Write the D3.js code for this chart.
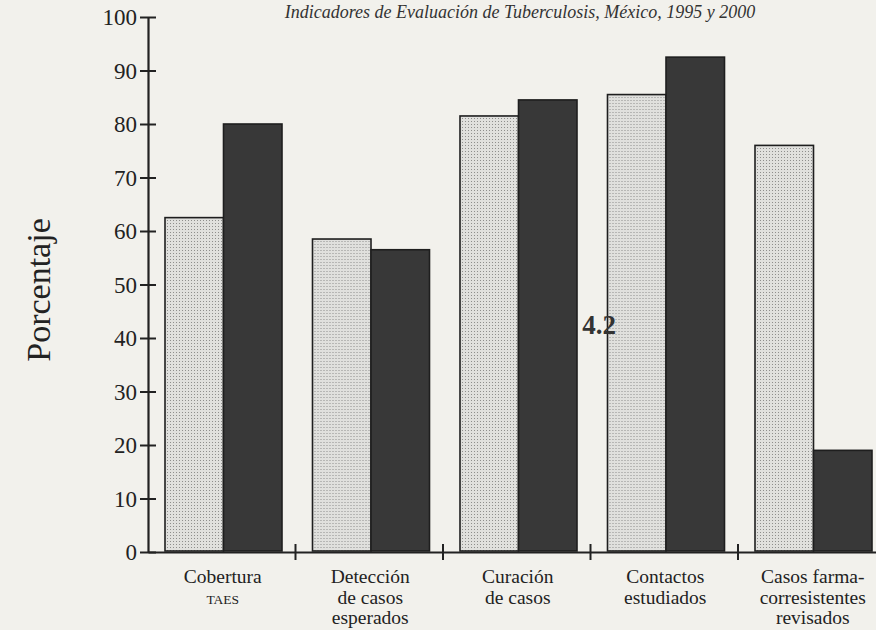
<!DOCTYPE html>
<html>
<head>
<meta charset="utf-8">
<script src="https://cdn.jsdelivr.net/npm/d3@7"></script>
<style>
  html, body { margin: 0; padding: 0; background: #f2f1ec; }
  svg { display: block; }
</style>
</head>
<body>
<script>
// ---- Data ----
const categories = [
  ["Cobertura", "TAES"],
  ["Detección", "de casos", "esperados"],
  ["Curación", "de casos"],
  ["Contactos", "estudiados"],
  ["Casos farma-", "corresistentes", "revisados"]
];
const categoryKeys = ["cobertura", "deteccion", "curacion", "contactos", "farmaco"];
const series = ["1995", "2000"];
const values1995 = [62.5, 58.5, 81.5, 85.5, 76];
const values2000 = [80, 56.5, 84.5, 92.5, 19];
const yTicks = [0, 10, 20, 30, 40, 50, 60, 70, 80, 90, 100];
const title = "Indicadores de Evaluación de Tuberculosis, México, 1995 y 2000";
const yLabel = "Porcentaje";
const pageMark = "4.2";

// ---- Layout ----
const W = 876, H = 630;
const mLeft = 148, mBottom = 552, mTop = 17;
const groupStep = 147.5;

const svg = d3.select("body").append("svg").attr("width", W).attr("height", H);
svg.append("rect").attr("width", W).attr("height", H).attr("fill", "#f2f1ec");

const defs = svg.append("defs");
const pat = defs.append("pattern").attr("id", "stipple")
  .attr("patternUnits", "userSpaceOnUse").attr("width", 3).attr("height", 3);
pat.append("rect").attr("width", 3).attr("height", 3).attr("fill", "#e0e0dd");
pat.append("rect").attr("x", 1).attr("y", 1).attr("width", 1).attr("height", 1).attr("fill", "#8e8e8c");

const y = d3.scaleLinear().domain([0, 100]).range([mBottom, mTop]);
const x0 = d3.scaleBand().domain(categoryKeys).range([mLeft, mLeft + groupStep * categoryKeys.length]).padding(0);
const x1 = d3.scaleBand().domain(series).range([17, 134]).padding(0);

const data = categoryKeys.map((k, i) => ({ key: k, vals: [values1995[i], values2000[i]] }));

// Title
svg.append("text").attr("x", 520).attr("y", 18)
  .attr("text-anchor", "middle")
  .attr("font-family", "Liberation Serif, serif").attr("font-style", "italic")
  .attr("font-size", 18).attr("fill", "#333").text(title);

// Bars
const g = svg.append("g");
const groups = g.selectAll("g.grp").data(data).join("g")
  .attr("transform", d => `translate(${x0(d.key)},0)`);
groups.selectAll("rect").data(d => d.vals.map((v, j) => ({ s: series[j], v })))
  .join("rect")
  .attr("x", d => x1(d.s))
  .attr("y", d => y(d.v))
  .attr("width", x1.bandwidth())
  .attr("height", d => y(0) - y(d.v) - 1)
  .attr("fill", d => d.s === "1995" ? "url(#stipple)" : "#383838")
  .attr("stroke", "#1e1e1e").attr("stroke-width", 1.6);

// Y axis
const yAxis = d3.axisLeft(y).tickValues(yTicks).tickSize(0).tickPadding(11);
const ya = svg.append("g").attr("transform", `translate(${mLeft},0)`).call(yAxis);
ya.select(".domain").attr("stroke", "#222").attr("stroke-width", 2.2);
ya.selectAll(".tick line").remove();
ya.selectAll(".tick").append("line").attr("x1", -8).attr("x2", 8)
  .attr("stroke", "#222").attr("stroke-width", 2);
ya.selectAll(".tick text").attr("font-family", "Liberation Serif, serif")
  .attr("font-size", 23).attr("fill", "#222").attr("dy", "0.34em");

// X axis
const xAxis = d3.axisBottom(x0).tickSize(0).tickFormat(() => "");
const xa = svg.append("g").attr("transform", `translate(0,${mBottom})`).call(xAxis);
xa.select(".domain").attr("stroke", "#222").attr("stroke-width", 2.2);
xa.selectAll(".tick").remove();
xa.selectAll("line.sep").data(categoryKeys.slice(1)).join("line").attr("class", "sep")
  .attr("x1", d => x0(d)).attr("x2", d => x0(d))
  .attr("y1", -8).attr("y2", 8).attr("stroke", "#222").attr("stroke-width", 2);

// Category labels
const lab = svg.append("g");
categoryKeys.forEach((k, i) => {
  const cx = x0(k) + x0.bandwidth() / 2 + 1;
  const lines = categories[i];
  lines.forEach((t, j) => {
    const isCaps = t === "TAES";
    lab.append("text").attr("x", cx).attr("y", 583 + j * 20.5)
      .attr("text-anchor", "middle")
      .attr("font-family", "Liberation Serif, serif")
      .attr("font-size", isCaps ? 13.5 : 19.5)
      .attr("fill", "#222").text(t);
  });
});

// Y label
svg.append("text").attr("transform", `translate(50,290) rotate(-90)`)
  .attr("text-anchor", "middle")
  .attr("font-family", "Liberation Serif, serif")
  .attr("font-size", 34).attr("fill", "#222").text(yLabel);

// Page mark
svg.append("text").attr("x", 599).attr("y", 334)
  .attr("text-anchor", "middle")
  .attr("font-family", "Liberation Serif, serif").attr("font-weight", "bold")
  .attr("font-size", 27).attr("fill", "#333").text(pageMark);
</script>
</body>
</html>
